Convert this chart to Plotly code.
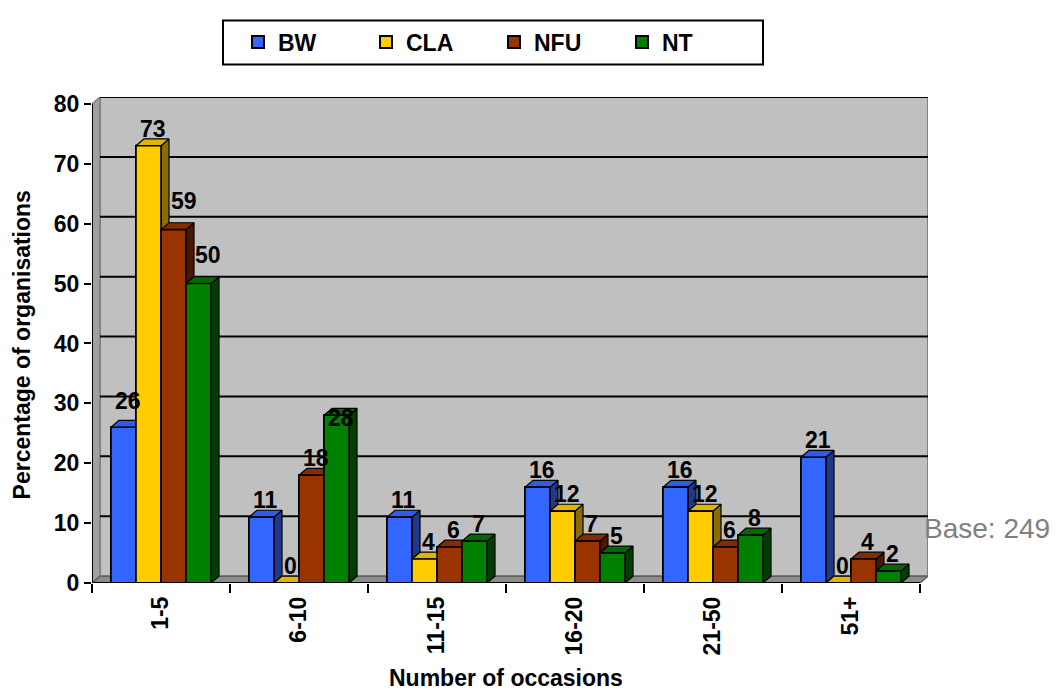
import plotly.graph_objects as go

# ---------------- data ----------------
categories = ["1-5", "6-10", "11-15", "16-20", "21-50", "51+"]
series_names = ["BW", "CLA", "NFU", "NT"]
bw_values = [26, 11, 11, 16, 16, 21]
cla_values = [73, 0, 4, 12, 12, 0]
nfu_values = [59, 18, 6, 7, 6, 4]
nt_values = [50, 28, 7, 5, 8, 2]
y_tick_values = [0, 10, 20, 30, 40, 50, 60, 70, 80]
x_title = "Number of occasions"
y_title = "Percentage of organisations"
base_note = "Base: 249"

series_values = [bw_values, cla_values, nfu_values, nt_values]

# ---------------- style ----------------
FONT = "Liberation Sans, Arial, sans-serif"
front_colors = ["#3366FF", "#FFCC00", "#993300", "#008000"]
side_colors = ["#1F3A8C", "#8A6E00", "#4A1800", "#003F00"]
top_colors = ["#2E5CE6", "#E0B400", "#842C00", "#006A00"]

PX_X = 138.0      # pixels per category
PX_Y = 6.1        # pixels per y unit
DX = 8 / PX_X     # depth offset (x, data units)
DY = 7 / PX_Y     # depth offset (y, data units)
W = 25 / PX_X     # bar width
YMAX = 80
X0, X1 = -0.5, len(categories) - 0.5

# label nudges (pixels) as placed in the original chart: (series, category) -> (dx, dy)
label_nudge = {(0, 0): (0, 9), (2, 0): (6, 12), (3, 0): (5, 12), (3, 1): (0, -20)}

# page body has an 8px margin -> figure drawn 8px lower/right
OFF = 8
ML, MT, MR, MB = 92 - OFF, 88 - OFF, 131, 110
FIG_W, FIG_H = 1059 - OFF, 693 - OFF
PW = FIG_W - ML - MR   # plot width in px
PH = FIG_H - MT - MB   # plot height in px


def px_x(p):  # screen pixel x -> paper x
    return (p - OFF - ML) / PW


def px_y(p):  # screen pixel y -> paper y
    return (FIG_H - MB - (p - OFF)) / PH


fig = go.Figure()

# base bars (used by the legend; covered by the 3D faces below)
for k, (name, vals) in enumerate(zip(series_names, series_values)):
    fig.add_trace(go.Bar(
        x=list(range(len(categories))), y=vals, name=name,
        width=W, offset=-2 * W + k * W,
        marker=dict(color=front_colors[k], line=dict(color="black", width=2)),
        hoverinfo="skip",
    ))

# 3D faces, painter's order
for k, vals in enumerate(series_values):
    fx, fy, sx, sy, tx, ty = [], [], [], [], [], []
    for i, v in enumerate(vals):
        l = i - 2 * W + k * W
        r = l + W
        fx += [l, r, r, l, l, None]
        fy += [0, 0, v, v, 0, None]
        sx += [r, r + DX, r + DX, r, r, None]
        sy += [0, DY, v + DY, v, 0, None]
        tx += [l, r, r + DX, l + DX, l, None]
        ty += [v, v, v + DY, v + DY, v, None]
    for xs, ys, col, lw in ((sx, sy, side_colors[k], 1.2),
                            (tx, ty, top_colors[k], 1.2),
                            (fx, fy, front_colors[k], 1.6)):
        fig.add_trace(go.Scatter(
            x=xs, y=ys, mode="lines", fill="toself", fillcolor=col,
            line=dict(color="black", width=lw), showlegend=False,
            hoverinfo="skip",
        ))

# walls, floor and gridlines
shapes = []
shapes.append(dict(type="rect", xref="x", yref="y", layer="below",
                   x0=X0 + DX, x1=X1 + DX, y0=DY, y1=YMAX + DY,
                   fillcolor="#C0C0C0", line=dict(color="#808080", width=2)))
shapes.append(dict(type="path", xref="x", yref="y", layer="below",
                   path=f"M{X0},0 L{X0},{YMAX} L{X0 + DX},{YMAX + DY} L{X0 + DX},{DY} Z",
                   fillcolor="#A0A0A0", line=dict(color="#808080", width=1.5)))
shapes.append(dict(type="path", xref="x", yref="y", layer="below",
                   path=f"M{X0},0 L{X1},0 L{X1 + DX},{DY} L{X0 + DX},{DY} Z",
                   fillcolor="#8C8C8C", line=dict(color="#606060", width=1.5)))
for v in y_tick_values[1:]:
    shapes.append(dict(type="line", xref="x", yref="y", layer="below",
                       x0=X0 + DX, x1=X1 + DX, y0=v + DY, y1=v + DY,
                       line=dict(color="black", width=2)))
# front axis lines
shapes.append(dict(type="line", xref="x", yref="y", x0=X0, x1=X0, y0=0, y1=YMAX,
                   line=dict(color="black", width=2)))
shapes.append(dict(type="line", xref="x", yref="y", x0=X0, x1=X1, y0=0, y1=0,
                   line=dict(color="black", width=2)))
# legend box
shapes.append(dict(type="rect", xref="paper", yref="paper",
                   x0=px_x(223), x1=px_x(763), y0=px_y(55), y1=px_y(10),
                   fillcolor="white", line=dict(color="black", width=2), layer="below"))

# value labels
annotations = []
for k, vals in enumerate(series_values):
    for i, v in enumerate(vals):
        l = i - 2 * W + k * W
        ndx, ndy = label_nudge.get((k, i), (0, 0))
        annotations.append(dict(
            x=l + W / 2 + DX / 2, y=v, xref="x", yref="y", text=f"<b>{v}</b>",
            showarrow=False, yanchor="middle", xanchor="center",
            yshift=17 + ndy, xshift=ndx,
            font=dict(family=FONT, size=23, color="black")))

annotations.append(dict(x=px_x(22), y=px_y(341), xref="paper", yref="paper",
                        text=f"<b>{y_title}</b>", textangle=-90, showarrow=False,
                        xanchor="center", yanchor="middle",
                        font=dict(family=FONT, size=23, color="black")))
annotations.append(dict(x=px_x(506), y=px_y(680), xref="paper", yref="paper",
                        text=f"<b>{x_title}</b>", showarrow=False,
                        xanchor="center", yanchor="middle",
                        font=dict(family=FONT, size=23, color="black")))
annotations.append(dict(x=px_x(922), y=px_y(527), xref="paper", yref="paper",
                        text=base_note, showarrow=False,
                        xanchor="left", yanchor="middle",
                        font=dict(family=FONT, size=28, color="#808080")))

fig.update_layout(
    width=FIG_W, height=FIG_H,
    margin=dict(l=ML, r=MR, t=MT, b=MB),
    paper_bgcolor="white", plot_bgcolor="white",
    barmode="overlay",
    showlegend=True,
    legend=dict(orientation="h", x=px_x(494), xanchor="center",
                y=px_y(32), yanchor="middle",
                bgcolor="rgba(0,0,0,0)", borderwidth=0,
                entrywidth=83, entrywidthmode="pixels",
                font=dict(family=FONT, size=23, color="black", weight="bold")),
    xaxis=dict(range=[X0, X1 + DX], tickvals=list(range(len(categories))),
               ticktext=[f"<b>{c}</b>" for c in categories], tickangle=-90,
               ticks="", ticklabelstandoff=8,
               minor=dict(tickvals=[i - 0.5 for i in range(len(categories) + 1)],
                          ticks="outside", ticklen=9, tickwidth=2, tickcolor="black"),
               showgrid=False, zeroline=False, showline=False,
               tickfont=dict(family=FONT, size=23, color="black")),
    yaxis=dict(range=[0, YMAX + DY], tickvals=y_tick_values,
               ticks="outside", ticklen=7, tickwidth=2, tickcolor="black",
               showgrid=False, zeroline=False, showline=False,
               tickfont=dict(family=FONT, size=23, color="black", weight="bold")),
    shapes=shapes, annotations=annotations,
)

fig.write_html("out.html")
